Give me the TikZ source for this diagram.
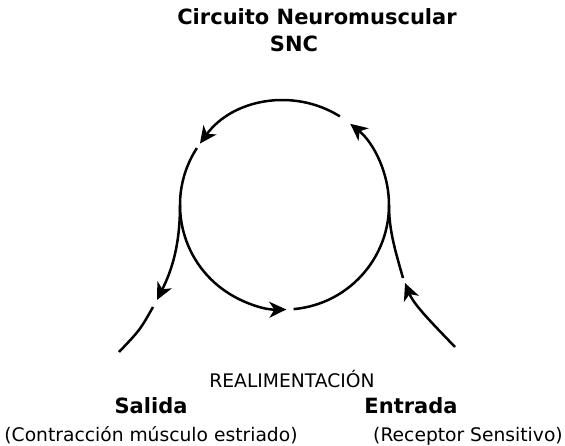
\documentclass[tikz,border=0pt]{standalone}
\usepackage{fontspec}
\setmainfont{DejaVu Sans}
\usetikzlibrary{arrows.meta}

\begin{document}
\begin{tikzpicture}[x=1pt, y=1pt, line width=2.5pt,
    >={Stealth[length=17pt, width=16pt, inset=5pt]},
    rotulo/.style={font=\fontsize{18.7}{22}\selectfont, inner sep=0pt, anchor=base},
    titulo/.style={font=\fontsize{21}{25}\selectfont\bfseries, inner sep=0pt, anchor=base}]
    \useasboundingbox (0, 0) rectangle (565, 445);

    % circuito
    \coordinate (centro) at (284.5, 240);
    \draw [->] (centro) ++(58:104.5) arc [start angle=58, end angle=144, radius=104.5];
    \draw [->] (centro) ++(147:104.5) arc [start angle=147, end angle=271, radius=104.5];
    \draw [->] (centro) ++(275:104.5) arc [start angle=275, end angle=411, radius=104.5];

    % salida
    \coordinate (izq) at (180, 240);
    \coordinate (sal1) at (157, 145);
    \coordinate (sal2) at (153, 138);
    \coordinate (sal3) at (119, 93);
    \draw [->] (izq) .. controls (180, 200) and (172, 175) .. (sal1);
    \draw (sal2) .. controls (140, 115) .. (sal3);

    % entrada
    \coordinate (der) at (389, 240);
    \coordinate (ent1) at (455, 98);
    \coordinate (ent2) at (405, 162);
    \coordinate (ent3) at (403, 167);
    \draw [->] (ent1) .. controls (432, 122) and (414, 140) .. (ent2);
    \draw (ent3) .. controls (395, 195) and (389, 215) .. (der);

    % textos
    \node [titulo] (circuito) at (317, 420) {Circuito Neuromuscular};
    \node [titulo] (snc) at (294, 393) {SNC};
    \node [rotulo] (realim) at (292, 58) {REALIMENTACIÓN};
    \node [titulo] (salida) at (151, 32) {Salida};
    \node [titulo] (entrada) at (411, 32) {Entrada};
    \node [rotulo] (contraccion) at (151, 4) {(Contracción músculo estriado)};
    \node [rotulo] (receptor) at (468, 4) {(Receptor Sensitivo)};
\end{tikzpicture}
\end{document}
